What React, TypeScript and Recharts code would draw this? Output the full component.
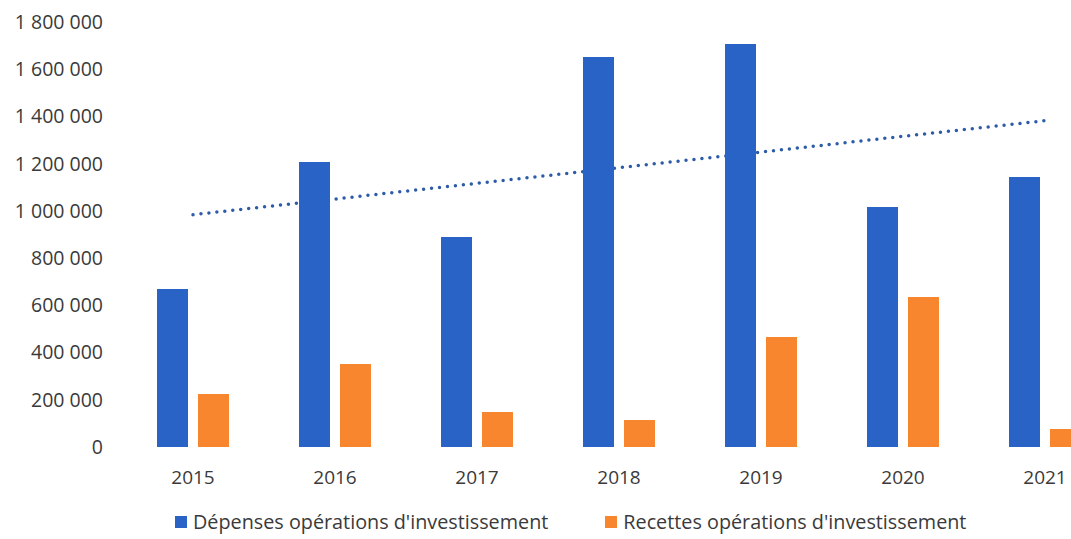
import React from "react";
import { ComposedChart, Bar, Line, XAxis, YAxis } from "recharts";

// valeurs
const years = ["2015", "2016", "2017", "2018", "2019", "2020", "2021"];
const depenses = [669000, 1207000, 889000, 1652000, 1707000, 1016000, 1144000];
const recettes = [224000, 352000, 148000, 114000, 466000, 635000, 76000];
// courbe de tendance : seulement les extrémités
const tendance = [984000, null, null, null, null, null, 1382000];
const yTicks = [0, 200000, 400000, 600000, 800000, 1000000, 1200000, 1400000, 1600000, 1800000];

const data = years.map((year, i) => ({
  year,
  depenses: depenses[i],
  recettes: recettes[i],
  tendance: tendance[i],
}));

const BLUE = "#2a63c6";
const ORANGE = "#f7862e";
const TEXT = "#3a3a3a";
const FONT = "'Open Sans', sans-serif";
const W = 1126;
const H = 539;
const MARGIN = { top: 22, right: 10, left: 0, bottom: 62 };

const fmt = (v: number) => String(v).replace(/\B(?=(\d{3})+(?!\d))/g, " ");

// mêmes axes pour les deux calques, pour que les échelles coïncident
function axes(showTicks: boolean) {
  return [
    <XAxis
      key="x"
      dataKey="year"
      axisLine={false}
      tickLine={false}
      tickSize={0}
      tickMargin={24}
      tick={showTicks ? { fill: TEXT, fontSize: 19, fontFamily: FONT } : false}
    />,
    <YAxis
      key="y"
      width={122}
      domain={[0, 1800000]}
      ticks={yTicks}
      tickFormatter={fmt}
      axisLine={false}
      tickLine={false}
      tickSize={0}
      tickMargin={19}
      tick={showTicks ? { fill: TEXT, fontSize: 19.5, fontFamily: FONT } : false}
    />,
  ];
}

function bars() {
  return [
    <Bar key="d" dataKey="depenses" fill={BLUE} isAnimationActive={false} />,
    <Bar key="r" dataKey="recettes" fill={ORANGE} isAnimationActive={false} />,
  ];
}

function LegendItem({ color, label }: { color: string; label: string }) {
  return (
    <div style={{ display: "flex", alignItems: "center" }}>
      <span
        style={{ width: 12, height: 12, background: color, display: "inline-block", marginRight: 6 }}
      />
      <span>{label}</span>
    </div>
  );
}

export default function App() {
  return (
    <div
      style={{
        position: "absolute",
        left: 0,
        top: 0,
        width: 1071,
        height: 539,
        overflow: "hidden",
        background: "#fff",
      }}
    >
      {/* calque du dessous : axes, barres et tendance */}
      <div style={{ position: "absolute", left: 0, top: 0 }}>
        <ComposedChart width={W} height={H} data={data} margin={MARGIN} barSize={31} barGap={10}>
          {axes(true)}
          {bars()}
          <Line
            dataKey="tendance"
            connectNulls
            stroke="#2c5ca8"
            strokeWidth={3.5}
            strokeDasharray="0 8"
            strokeLinecap="round"
            dot={false}
            activeDot={false}
            isAnimationActive={false}
          />
        </ComposedChart>
      </div>
      {/* calque du dessus : barres redessinées par-dessus la tendance */}
      <div style={{ position: "absolute", left: 0, top: 0 }}>
        <ComposedChart width={W} height={H} data={data} margin={MARGIN} barSize={31} barGap={10}>
          {axes(false)}
          {bars()}
        </ComposedChart>
      </div>
      <div
        style={{
          position: "absolute",
          left: 175,
          top: 509,
          display: "flex",
          gap: 57,
          fontFamily: FONT,
          fontSize: 19.8,
          lineHeight: "26px",
          color: TEXT,
          whiteSpace: "nowrap",
        }}
      >
        <LegendItem color={BLUE} label="Dépenses opérations d'investissement" />
        <LegendItem color={ORANGE} label="Recettes opérations d'investissement" />
      </div>
    </div>
  );
}
